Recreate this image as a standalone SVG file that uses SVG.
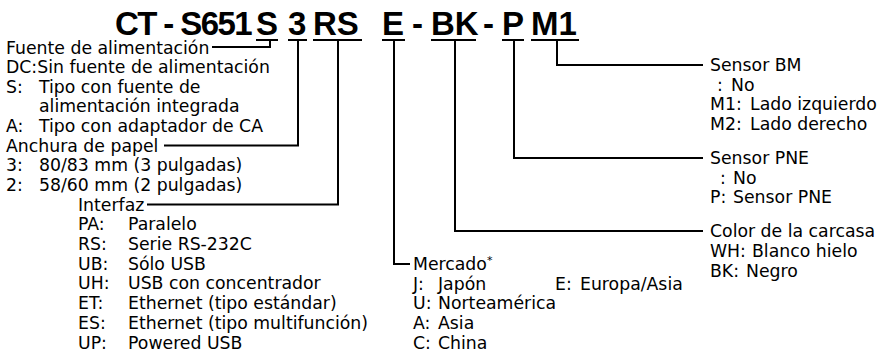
<svg xmlns="http://www.w3.org/2000/svg" width="893" height="352" viewBox="0 0 893 352">
<style>
.t{font-family:"DejaVu Sans","Liberation Sans",sans-serif;font-size:17.3px;fill:#000}
.h{font-family:"Liberation Sans",Arial,sans-serif;font-size:33px;font-weight:bold;fill:#000}
.u{stroke:#000;stroke-width:2;fill:none}
.c{stroke:#000;stroke-width:2;fill:none}
.ast{font-size:11px}
</style>
<rect width="893" height="352" fill="#fff"/>
<g id="title">
<text class="h" x="115" y="35" style="letter-spacing:-1.6px">CT - S651</text>
<text class="h" x="256" y="35">S</text>
<text class="h" x="288" y="35">3</text>
<text class="h" x="313" y="35">RS</text>
<text class="h" x="382" y="35">E</text>
<text class="h" x="412" y="35">-</text>
<text class="h" x="431" y="35">BK</text>
<text class="h" x="483" y="35">-</text>
<text class="h" x="502" y="35">P</text>
<text class="h" x="531" y="35">M1</text>
<g class="u">
<line x1="256" y1="40" x2="278" y2="40"/>
<line x1="288" y1="40" x2="307" y2="40"/>
<line x1="313" y1="40" x2="362" y2="40"/>
<line x1="382" y1="40" x2="405" y2="40"/>
<line x1="431" y1="40" x2="476" y2="40"/>
<line x1="502" y1="40" x2="524" y2="40"/>
<line x1="531" y1="40" x2="579" y2="40"/>
</g>
</g>
<g id="connectors" class="c">
<polyline points="270,40 270,47 212,47"/>
<polyline points="298,40 298,145.5 164,145.5"/>
<polyline points="338,40 338,204.5 147,204.5"/>
<polyline points="394,40 394,264 410,264"/>
<polyline points="455,40 455,231 703,231"/>
<polyline points="514,40 514,158 703,158"/>
<polyline points="557,40 557,65 703,65"/>
</g>
<g id="power">
<text class="t" x="6" y="53.5">Fuente de alimentación</text>
<text class="t" x="6" y="73">DC:Sin fuente de alimentación</text>
<text class="t" x="6" y="92.6">S:</text><text class="t" x="39" y="92.6">Tipo con fuente de</text>
<text class="t" x="39" y="112.2">alimentación integrada</text>
<text class="t" x="6" y="131.8">A:</text><text class="t" x="39" y="131.8">Tipo con adaptador de CA</text>
</g>
<g id="paper">
<text class="t" x="6" y="151.5">Anchura de papel</text>
<text class="t" x="6" y="171.2">3:</text><text class="t" x="39" y="171.2">80/83 mm (3 pulgadas)</text>
<text class="t" x="6" y="190.9">2:</text><text class="t" x="39" y="190.9">58/60 mm (2 pulgadas)</text>
</g>
<g id="interface">
<text class="t" x="78" y="210.6">Interfaz</text>
<text class="t" x="78" y="230.3">PA:</text><text class="t" x="128" y="230.3">Paralelo</text>
<text class="t" x="78" y="250">RS:</text><text class="t" x="128" y="250">Serie RS-232C</text>
<text class="t" x="78" y="269.7">UB:</text><text class="t" x="128" y="269.7">Sólo USB</text>
<text class="t" x="78" y="289.4">UH:</text><text class="t" x="128" y="289.4">USB con concentrador</text>
<text class="t" x="78" y="309.1">ET:</text><text class="t" x="128" y="309.1">Ethernet (tipo estándar)</text>
<text class="t" x="78" y="328.8">ES:</text><text class="t" x="128" y="328.8">Ethernet (tipo multifunción)</text>
<text class="t" x="78" y="348.5">UP:</text><text class="t" x="128" y="348.5">Powered USB</text>
</g>
<g id="market">
<text class="t" x="413" y="270">Mercado<tspan class="ast" dy="-6">*</tspan></text>
<text class="t" x="413" y="289.7">J:</text><text class="t" x="438" y="289.7">Japón</text>
<text class="t" x="555" y="289.7">E:</text><text class="t" x="580" y="289.7">Europa/Asia</text>
<text class="t" x="413" y="309.4">U:</text><text class="t" x="438" y="309.4">Norteamérica</text>
<text class="t" x="413" y="329.1">A:</text><text class="t" x="438" y="329.1">Asia</text>
<text class="t" x="413" y="348.8">C:</text><text class="t" x="438" y="348.8">China</text>
</g>
<g id="color">
<text class="t" x="710" y="237.4">Color de la carcasa</text>
<text class="t" x="710" y="257.1">WH:</text><text class="t" x="752" y="257.1">Blanco hielo</text>
<text class="t" x="710" y="276.8">BK:</text><text class="t" x="746" y="276.8">Negro</text>
</g>
<g id="pne">
<text class="t" x="710" y="164">Sensor PNE</text>
<text class="t" x="720" y="183.7">:</text><text class="t" x="733" y="183.7">No</text>
<text class="t" x="710" y="203.4">P:</text><text class="t" x="733" y="203.4">Sensor PNE</text>
</g>
<g id="bm">
<text class="t" x="710" y="71">Sensor BM</text>
<text class="t" x="717" y="90.7">:</text><text class="t" x="731" y="90.7">No</text>
<text class="t" x="710" y="110.4">M1:</text><text class="t" x="750" y="110.4">Lado izquierdo</text>
<text class="t" x="710" y="130.1">M2:</text><text class="t" x="750" y="130.1">Lado derecho</text>
</g>
</svg>
